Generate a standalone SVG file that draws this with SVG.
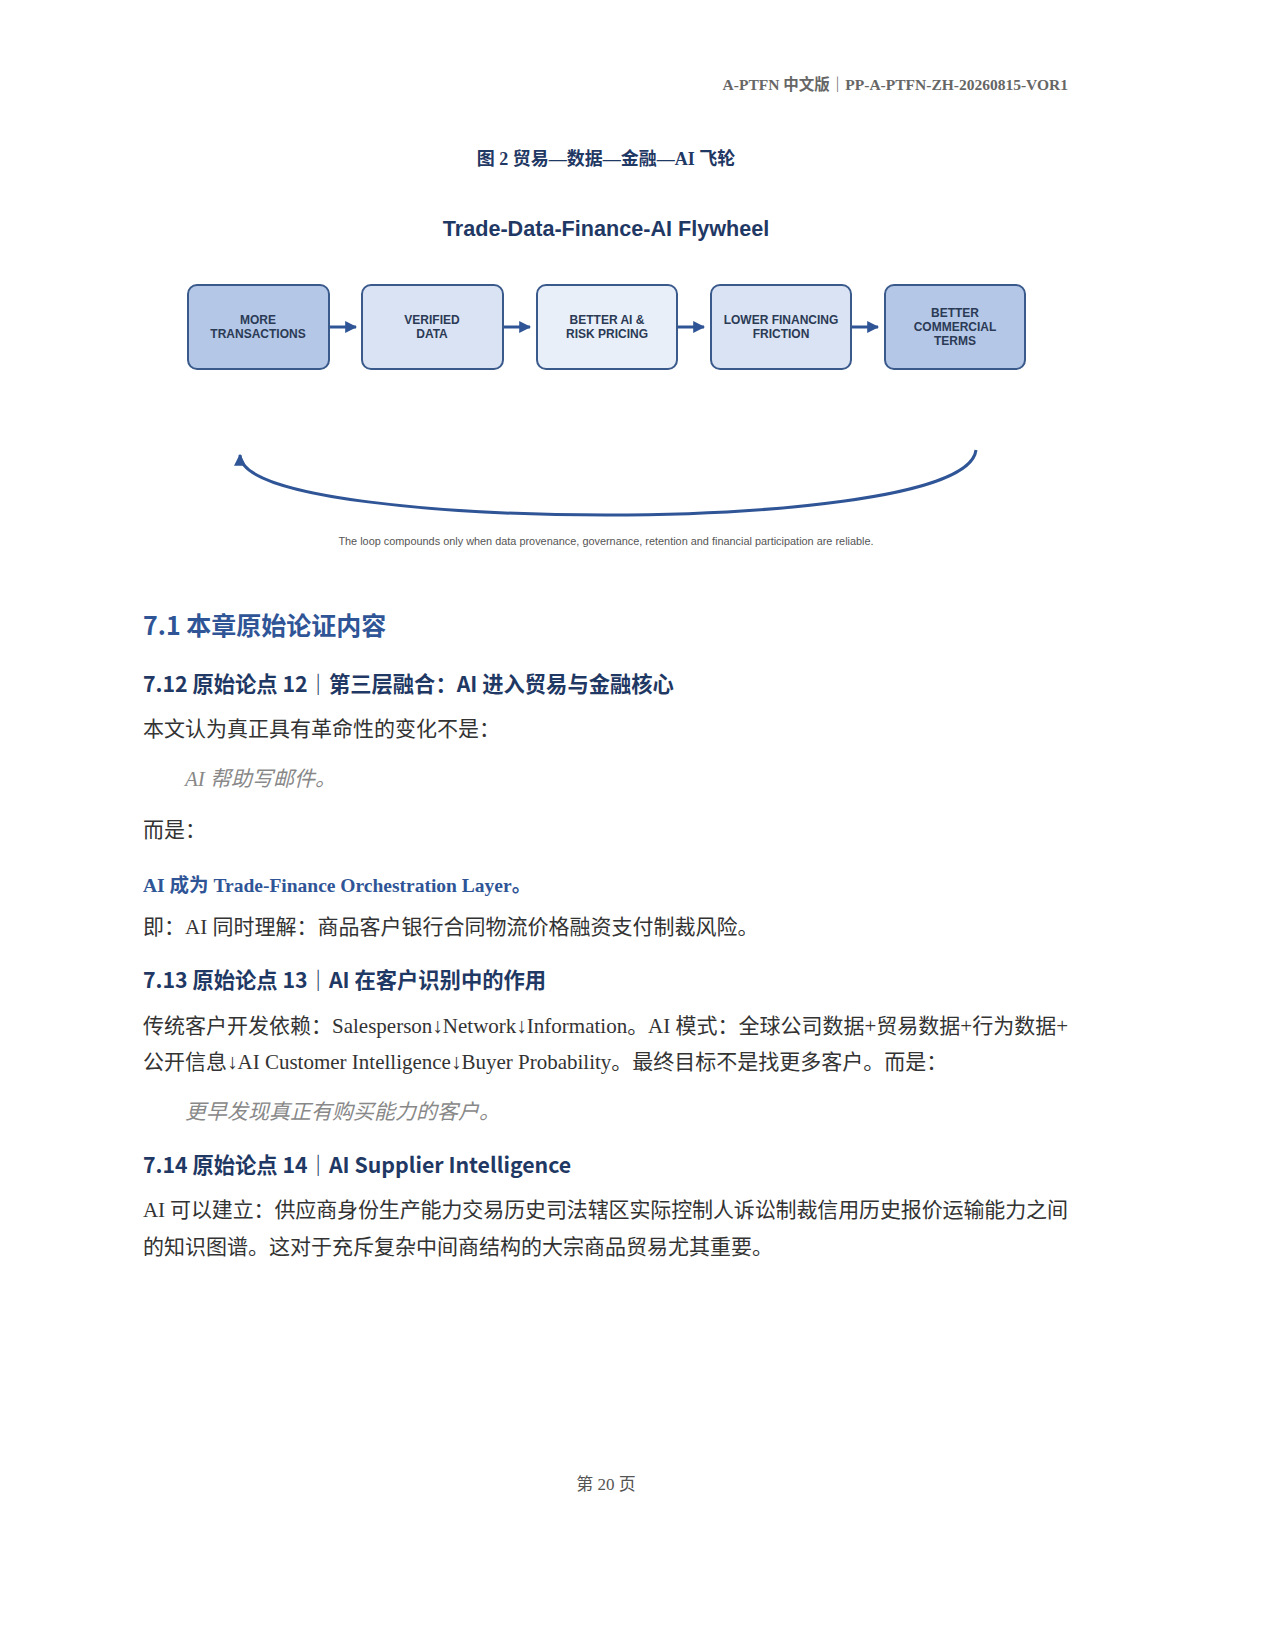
<svg xmlns="http://www.w3.org/2000/svg" width="1275" height="1650" viewBox="0 0 1275 1650">
<style>
.hdr{font-family:"Liberation Serif","Noto Sans CJK SC",serif;font-weight:bold;font-size:15.5px;fill:#666}
.box{stroke:#3a5a8c;stroke-width:2}
.bt{font-family:"Liberation Sans",Arial,sans-serif;font-weight:bold;font-size:12px;fill:#2b3a55;text-anchor:middle}
.h1{font-family:"Noto Sans CJK SC",sans-serif;font-weight:bold;font-size:25px;fill:#2f5597}
.h2{font-family:"Noto Sans CJK SC",sans-serif;font-weight:bold;font-size:21.3px;fill:#1f3864}
.p{font-family:"Liberation Serif","Noto Sans CJK SC",serif;font-size:21px;fill:#333}
.it{font-family:"Liberation Serif","Noto Sans CJK SC",serif;font-size:21px;fill:#888;font-style:italic}
.conn{stroke:#2f5597;stroke-width:3;fill:none}
</style>
<defs>
<marker id="ah" viewBox="0 0 10 10" refX="9" refY="5" markerWidth="4" markerHeight="4" orient="auto"><path d="M0,0L10,5L0,10z" fill="#2f5597"/></marker>
</defs>
<rect width="1275" height="1650" fill="#fff"/>
<text class="hdr" x="1068" y="90" text-anchor="end">A-PTFN 中文版｜PP-A-PTFN-ZH-20260815-VOR1</text>
<text x="606" y="165" text-anchor="middle" style="font-family:'Liberation Serif','Noto Sans CJK SC',serif;font-weight:bold;font-size:18px;fill:#1f3864">图 2  贸易—数据—金融—AI 飞轮</text>
<text x="606" y="236" text-anchor="middle" style="font-family:'Liberation Sans',Arial,sans-serif;font-weight:bold;font-size:21.6px;fill:#1f3864">Trade-Data-Finance-AI Flywheel</text>
<g id="n1"><rect class="box" x="188" y="285" width="141" height="84" rx="9" fill="#b4c7e7"/><text class="bt" x="258" y="324">MORE</text><text class="bt" x="258" y="338">TRANSACTIONS</text></g>
<g id="n2"><rect class="box" x="362" y="285" width="141" height="84" rx="9" fill="#dae3f3"/><text class="bt" x="432" y="324">VERIFIED</text><text class="bt" x="432" y="338">DATA</text></g>
<g id="n3"><rect class="box" x="537" y="285" width="140" height="84" rx="9" fill="#e9eff9"/><text class="bt" x="607" y="324">BETTER AI &amp;</text><text class="bt" x="607" y="338">RISK PRICING</text></g>
<g id="n4"><rect class="box" x="711" y="285" width="140" height="84" rx="9" fill="#dae3f3"/><text class="bt" x="781" y="324">LOWER FINANCING</text><text class="bt" x="781" y="338">FRICTION</text></g>
<g id="n5"><rect class="box" x="885" y="285" width="140" height="84" rx="9" fill="#b4c7e7"/><text class="bt" x="955" y="317">BETTER</text><text class="bt" x="955" y="331">COMMERCIAL</text><text class="bt" x="955" y="345">TERMS</text></g>
<g id="connectors">
<path class="conn" d="M330,327H356" marker-end="url(#ah)"/>
<path class="conn" d="M504,327H530" marker-end="url(#ah)"/>
<path class="conn" d="M678,327H704" marker-end="url(#ah)"/>
<path class="conn" d="M852,327H878" marker-end="url(#ah)"/>
<path class="conn" d="M976,450C970,500 750,515 606,515C460,515 240,500 240,455" marker-end="url(#ah)"/>
</g>
<text x="606" y="545" text-anchor="middle" style="font-family:'Liberation Sans',Arial,sans-serif;font-size:10.9px;fill:#555">The loop compounds only when data provenance, governance, retention and financial participation are reliable.</text>
<text class="h1" x="143" y="635">7.1 本章原始论证内容</text>
<text class="h2" x="143" y="692">7.12 原始论点 12｜第三层融合：AI 进入贸易与金融核心</text>
<text class="p" x="143" y="736">本文认为真正具有革命性的变化不是：</text>
<text class="it" x="185" y="786">AI 帮助写邮件。</text>
<text class="p" x="143" y="837">而是：</text>
<text x="143" y="892" style="font-family:'Liberation Serif','Noto Sans CJK SC',serif;font-weight:bold;font-size:19.5px;fill:#2f5597">AI 成为 Trade-Finance Orchestration Layer。</text>
<text class="p" x="143" y="934">即：AI 同时理解：商品客户银行合同物流价格融资支付制裁风险。</text>
<text class="h2" x="143" y="988">7.13 原始论点 13｜AI 在客户识别中的作用</text>
<text class="p" x="143" y="1033" textLength="925" lengthAdjust="spacing">传统客户开发依赖：Salesperson↓Network↓Information。AI 模式：全球公司数据+贸易数据+行为数据+</text>
<text class="p" x="143" y="1069">公开信息↓AI Customer Intelligence↓Buyer Probability。最终目标不是找更多客户。而是：</text>
<text class="it" x="185" y="1119">更早发现真正有购买能力的客户。</text>
<text class="h2" x="143" y="1173">7.14 原始论点 14｜AI Supplier Intelligence</text>
<text class="p" x="143" y="1217" textLength="925" lengthAdjust="spacing">AI 可以建立：供应商身份生产能力交易历史司法辖区实际控制人诉讼制裁信用历史报价运输能力之间</text>
<text class="p" x="143" y="1254">的知识图谱。这对于充斥复杂中间商结构的大宗商品贸易尤其重要。</text>
<text x="606" y="1490" text-anchor="middle" style="font-family:'Liberation Serif','Noto Sans CJK SC',serif;font-size:17px;fill:#555">第 20 页</text>
</svg>
